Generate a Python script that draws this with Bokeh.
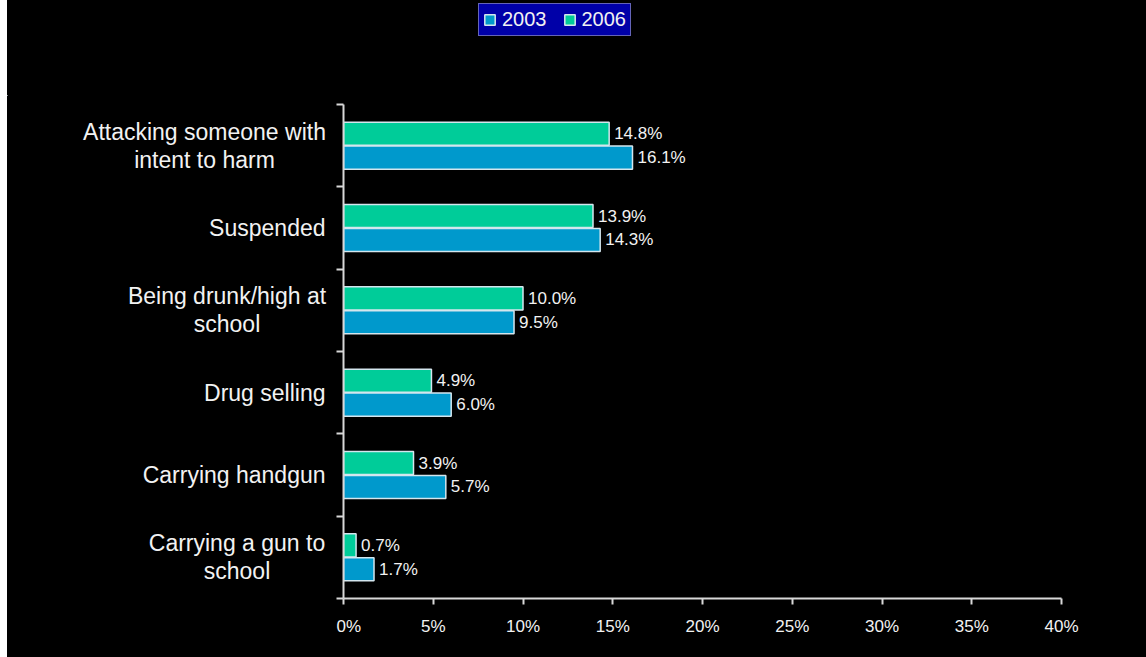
from bokeh.plotting import figure
from bokeh.models import (ColumnDataSource, Range1d, FixedTicker, PrintfTickFormatter,
                          Legend, LegendItem, Spacer)
from bokeh.layouts import row, column
from bokeh.core.properties import value
from bokeh.embed import file_html
from bokeh.resources import INLINE

# ---- data (top to bottom as shown) ----
categories = [
    "Attacking someone with\nintent to harm",
    "Suspended",
    "Being drunk/high at\nschool",
    "Drug selling",
    "Carrying handgun",
    "Carrying a gun to\nschool",
]
values_2003 = [16.1, 14.3, 9.5, 6.0, 5.7, 1.7]
values_2006 = [14.8, 13.9, 10.0, 4.9, 3.9, 0.7]
series_names = ["2003", "2006"]
x_ticks = [0, 5, 10, 15, 20, 25, 30, 35, 40]

# ---- style ----
BLUE = "#0099CC"
GREEN = "#00CC99"
OUTLINE = "#D4E6EE"
AXIS = "#D8D8D8"
TEXT = "#F2F2F2"
FONT = "Liberation Sans"
W = 1146
STRIP = 7             # white strip at the left edge
LEFT_W = 329          # width of the category-label column (px)
TOP_H = 96            # height of the legend band
PAD_TOP = 8
BOTTOM = 59
HEIGHT = 657

n = len(categories)
centers = [n - 1 - i + 0.5 for i in range(n)]
off = 0.145
bar_h = 0.28

y_range = Range1d(0, n)

src03 = ColumnDataSource(dict(
    y=[c - off for c in centers], v=values_2003,
    lab=[f"{v:.1f}%" for v in values_2003]))
src06 = ColumnDataSource(dict(
    y=[c + off for c in centers], v=values_2006,
    lab=[f"{v:.1f}%" for v in values_2006]))


def style_black(fig):
    fig.background_fill_color = "black"
    fig.border_fill_color = "black"
    fig.outline_line_color = None
    fig.xgrid.visible = False
    fig.ygrid.visible = False


# ---------------- main chart ----------------
p = figure(width=W - STRIP - LEFT_W, height=HEIGHT - TOP_H, output_backend="svg",
           toolbar_location=None, x_range=Range1d(0, 40), y_range=y_range,
           min_border_left=0, min_border_right=85,
           min_border_top=PAD_TOP, min_border_bottom=BOTTOM)
style_black(p)

r03 = p.hbar(y="y", right="v", left=0, height=bar_h, source=src03,
             fill_color=BLUE, line_color=OUTLINE, line_width=1.5)
r06 = p.hbar(y="y", right="v", left=0, height=bar_h, source=src06,
             fill_color=GREEN, line_color=OUTLINE, line_width=1.5)

for src in (src03, src06):
    p.text(x="v", y="y", text="lab", source=src, x_offset=5,
           text_baseline="middle", text_align="left",
           text_font=value(FONT), text_font_size="17px", text_color=TEXT)

xa = p.xaxis[0]
xa.ticker = FixedTicker(ticks=x_ticks)
xa.formatter = PrintfTickFormatter(format="%d%%")
xa.axis_line_color = AXIS
xa.axis_line_width = 2
xa.major_tick_line_color = AXIS
xa.major_tick_line_width = 2
xa.major_tick_out = 6
xa.major_tick_in = 0
xa.minor_tick_line_color = None
xa.major_label_text_color = TEXT
xa.major_label_text_font = FONT
xa.major_label_text_font_size = "17px"
xa.major_label_standoff = 12

ya = p.yaxis[0]
ya.ticker = FixedTicker(ticks=list(range(n + 1)))
ya.axis_line_color = AXIS
ya.axis_line_width = 2
ya.major_tick_line_color = AXIS
ya.major_tick_line_width = 2
ya.major_tick_out = 7
ya.major_tick_in = 0
ya.minor_tick_line_color = None
ya.major_label_text_font_size = "0px"
ya.major_label_standoff = 0

# ---------------- category labels column ----------------
q = figure(width=LEFT_W, height=HEIGHT - TOP_H, output_backend="svg", toolbar_location=None,
           x_range=Range1d(0, LEFT_W), y_range=y_range,
           x_axis_location=None, y_axis_location=None,
           min_border_left=0, min_border_right=0,
           min_border_top=PAD_TOP, min_border_bottom=BOTTOM)
style_black(q)

label_right = 318
block_centers = {0: 197, 2: 219.5, 5: 229.5}
lx, ly, lt, lyo, la = [], [], [], [], []
for i, cat in enumerate(categories):
    lines = cat.split("\n")
    if len(lines) == 1:
        lx.append(label_right); ly.append(centers[i]); lt.append(lines[0])
        lyo.append(0); la.append("right")
    else:
        for j, ln in enumerate(lines):
            lx.append(block_centers[i]); ly.append(centers[i]); lt.append(ln)
            lyo.append(-14 + 28 * j); la.append("center")
lsrc = ColumnDataSource(dict(x=lx, y=ly, t=lt, yo=lyo, a=la))
q.text(x="x", y="y", text="t", y_offset="yo", text_align="a", source=lsrc,
       text_baseline="middle", text_font=value(FONT), text_font_size="23px",
       text_color=TEXT)

# ---------------- legend band ----------------
# the band's ranges lie away from the data, so these renderers only serve as legend keys
t = figure(width=W - STRIP, height=TOP_H, output_backend="svg", toolbar_location=None,
           x_range=Range1d(100, 200), y_range=Range1d(100, 200),
           x_axis_location=None, y_axis_location=None,
           min_border_left=0, min_border_right=0, min_border_top=0, min_border_bottom=0)
style_black(t)
k03 = t.hbar(y="y", right="v", left=0, height=bar_h, source=src03,
             fill_color=BLUE, line_color=OUTLINE, line_width=1.5)
k06 = t.hbar(y="y", right="v", left=0, height=bar_h, source=src06,
             fill_color=GREEN, line_color=OUTLINE, line_width=1.5)

legend = Legend(items=[LegendItem(label=series_names[0], renderers=[k03]),
                       LegendItem(label=series_names[1], renderers=[k06])],
                orientation="horizontal", location=(471, 60))
legend.background_fill_color = "#0000A8"
legend.background_fill_alpha = 1
legend.border_line_color = "#C8C8C8"
legend.border_line_width = 1.5
legend.label_text_color = TEXT
legend.label_text_font = FONT
legend.label_text_font_size = "20px"
legend.glyph_width = 13
legend.glyph_height = 13
legend.padding = 4
legend.spacing = 16
legend.label_standoff = 6
legend.margin = 0
t.add_layout(legend)

white = {"background-color": "white"}
black = {"background-color": "black"}
layout = column(
    row(Spacer(width=STRIP, height=TOP_H, styles=white), t, styles=black),
    row(Spacer(width=STRIP, height=HEIGHT - TOP_H, styles=white), q, p, styles=black),
    styles=black,
)
open("out.html", "w").write(file_html(layout, INLINE))
